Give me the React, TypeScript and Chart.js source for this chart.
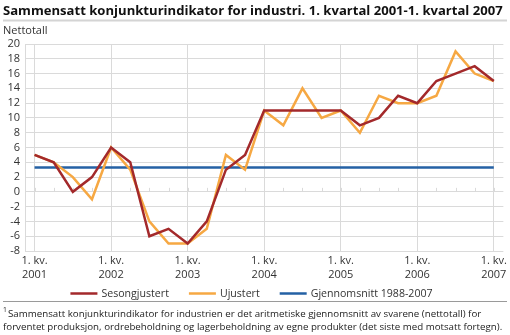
import React, { useEffect, useRef } from "react";
import { Chart, registerables } from "chart.js";

Chart.register(...registerables);

const quarters = [
  "1. kv. 2001", "2. kv. 2001", "3. kv. 2001", "4. kv. 2001",
  "1. kv. 2002", "2. kv. 2002", "3. kv. 2002", "4. kv. 2002",
  "1. kv. 2003", "2. kv. 2003", "3. kv. 2003", "4. kv. 2003",
  "1. kv. 2004", "2. kv. 2004", "3. kv. 2004", "4. kv. 2004",
  "1. kv. 2005", "2. kv. 2005", "3. kv. 2005", "4. kv. 2005",
  "1. kv. 2006", "2. kv. 2006", "3. kv. 2006", "4. kv. 2006",
  "1. kv. 2007",
];

const sesongjustert = [5, 4, 0, 2, 6, 4, -6, -5, -7, -4, 3, 5, 11, 11, 11, 11, 11, 9, 10, 13, 12, 15, 16, 17, 15];
const ujustert = [5, 4, 2, -1, 6, 3, -4, -7, -7, -5, 5, 3, 11, 9, 14, 10, 11, 8, 13, 12, 12, 13, 19, 16, 15];
const gjennomsnitt = [3.3, 3.3, 3.3, 3.3, 3.3, 3.3, 3.3, 3.3, 3.3, 3.3, 3.3, 3.3, 3.3, 3.3, 3.3, 3.3, 3.3, 3.3, 3.3, 3.3, 3.3, 3.3, 3.3, 3.3, 3.3];

const seriesNames = ["Sesongjustert", "Ujustert", "Gjennomsnitt 1988-2007"];
const yMin = -8;
const yMax = 20;
const yStep = 2;

const titleText = "Sammensatt konjunkturindikator for industri. 1. kvartal 2001-1. kvartal 2007";
const yUnit = "Nettotall";
const footnoteMark = "1";
const footnoteLines = [
  "Sammensatt konjunkturindikator for industrien er det aritmetiske gjennomsnitt av svarene (nettotall) for",
  "forventet produksjon, ordrebeholdning og lagerbeholdning av egne produkter (det siste med motsatt fortegn).",
];

const COLORS = ["#a3292b", "#f6a843", "#2461a4"];
const GRID = "#dadada";
const FONT = '"Open Sans", "Noto Sans", sans-serif';

const decorPlugin = {
  id: "decor",
  beforeDraw(chart: any) {
    const ctx = chart.ctx as CanvasRenderingContext2D;
    ctx.save();
    ctx.fillStyle = "#ffffff";
    ctx.fillRect(0, 0, chart.width, chart.height);
    // title
    ctx.fillStyle = "#111";
    ctx.textBaseline = "middle";
    ctx.textAlign = "left";
    let size = 14;
    ctx.font = `bold ${size}px ${FONT}`;
    const w = ctx.measureText(titleText).width;
    size = Math.min(14, (size * 500) / w);
    ctx.font = `bold ${size}px ${FONT}`;
    ctx.fillText(titleText, 3, 11);
    ctx.fillStyle = "#d4d4d4";
    ctx.fillRect(3, 19.5, 504, 2);
    // unit
    ctx.fillStyle = "#333";
    ctx.font = `11px ${FONT}`;
    ctx.fillText(yUnit, 3, 31);
    ctx.restore();
  },
  beforeDatasetsDraw(chart: any) {
    const ctx = chart.ctx as CanvasRenderingContext2D;
    const xs = chart.scales.x;
    const ys = chart.scales.y;
    const y0 = ys.getPixelForValue(0);
    ctx.save();
    ctx.strokeStyle = GRID;
    ctx.lineWidth = 1;
    ctx.beginPath();
    for (let i = 0; i < quarters.length; i++) {
      const x = Math.round(xs.getPixelForValue(i)) + 0.5;
      ctx.moveTo(x, y0);
      ctx.lineTo(x, y0 - 4);
    }
    ctx.stroke();
    ctx.restore();
  },
  afterDraw(chart: any) {
    const ctx = chart.ctx as CanvasRenderingContext2D;
    ctx.save();
    // legend
    ctx.font = `10.6px ${FONT}`;
    ctx.textBaseline = "middle";
    ctx.textAlign = "left";
    const lineW = 27;
    const gap = 4;
    const itemGap = 20;
    const widths = seriesNames.map((n) => ctx.measureText(n).width);
    const total = widths.reduce((a, b) => a + b, 0) + seriesNames.length * (lineW + gap) + itemGap * (seriesNames.length - 1);
    let x = 251.5 - total / 2;
    const ly = 293.5;
    seriesNames.forEach((n, i) => {
      ctx.strokeStyle = COLORS[i];
      ctx.lineWidth = 2.5;
      ctx.beginPath();
      ctx.moveTo(x, ly);
      ctx.lineTo(x + lineW, ly);
      ctx.stroke();
      ctx.fillStyle = "#333";
      ctx.fillText(n, x + lineW + gap, ly);
      x += lineW + gap + widths[i] + itemGap;
    });
    // separator
    ctx.fillStyle = "#9a9a9a";
    ctx.fillRect(3, 301, 504, 1);
    // footnote, sized so the longest line spans the reference width
    ctx.fillStyle = "#222";
    let fs = 10.5;
    ctx.font = `${fs}px ${FONT}`;
    const fw = ctx.measureText(footnoteLines[1]).width;
    fs = (fs * 500) / fw;
    ctx.font = `${fs * 0.7}px ${FONT}`;
    ctx.fillText(footnoteMark, 3, 310);
    ctx.font = `${fs}px ${FONT}`;
    ctx.fillText(footnoteLines[0], 8, 314);
    ctx.fillText(footnoteLines[1], 3, 327);
    ctx.restore();
  },
};

export default function App() {
  const canvasRef = useRef<HTMLCanvasElement | null>(null);

  useEffect(() => {
    document.body.style.margin = "0";
    const canvas = canvasRef.current;
    if (!canvas) return;
    const chart = new Chart(canvas, {
      type: "line",
      data: {
        labels: quarters,
        datasets: [
          { label: seriesNames[0], data: sesongjustert, borderColor: COLORS[0], backgroundColor: COLORS[0], borderWidth: 2.5, pointRadius: 0, tension: 0 },
          { label: seriesNames[1], data: ujustert, borderColor: COLORS[1], backgroundColor: COLORS[1], borderWidth: 2.5, pointRadius: 0, tension: 0 },
          { label: seriesNames[2], data: gjennomsnitt, borderColor: COLORS[2], backgroundColor: COLORS[2], borderWidth: 2.5, pointRadius: 0, tension: 0 },
        ],
      },
      options: {
        responsive: false,
        animation: false,
        devicePixelRatio: 1,
        layout: { padding: { top: 44, right: 5, bottom: 48, left: 0 } },
        plugins: {
          legend: { display: false },
          title: { display: false },
          tooltip: { enabled: false },
        },
        scales: {
          x: {
            type: "category",
            offset: true,
            grid: {
              offset: false,
              drawTicks: false,
              color: (c: any) => (quarters[c.index] && quarters[c.index].startsWith("1.") ? GRID : "rgba(0,0,0,0)"),
              lineWidth: 1,
            },
            border: { display: false },
            ticks: {
              autoSkip: false,
              maxRotation: 0,
              minRotation: 0,
              padding: 3,
              color: "#333",
              font: { family: FONT, size: 11, lineHeight: 1.25 },
              callback: (_v: any, i: number) => {
                const q = quarters[i];
                if (!q.startsWith("1.")) return "";
                const parts = q.split(" ");
                return [parts[0] + " " + parts[1], parts[2]];
              },
            },
            afterFit: (s: any) => {
              s.height = 36;
            },
          },
          y: {
            min: yMin,
            max: yMax,
            grid: { color: GRID, drawTicks: false, lineWidth: 1 },
            border: { display: true, color: GRID },
            ticks: {
              stepSize: yStep,
              autoSkip: false,
              maxTicksLimit: 100,
              padding: 5,
              color: "#333",
              font: { family: FONT, size: 11 },
            },
            afterFit: (s: any) => {
              s.width = 25;
            },
          },
        },
      },
      plugins: [decorPlugin],
    });
    let alive = true;
    if ((document as any).fonts && (document as any).fonts.ready) {
      (document as any).fonts.ready.then(() => {
        if (alive) chart.draw();
      });
    }
    return () => {
      alive = false;
      chart.destroy();
    };
  }, []);

  return (
    <canvas ref={canvasRef} width={510} height={335} style={{ display: "block", width: 510, height: 335 }} />
  );
}
